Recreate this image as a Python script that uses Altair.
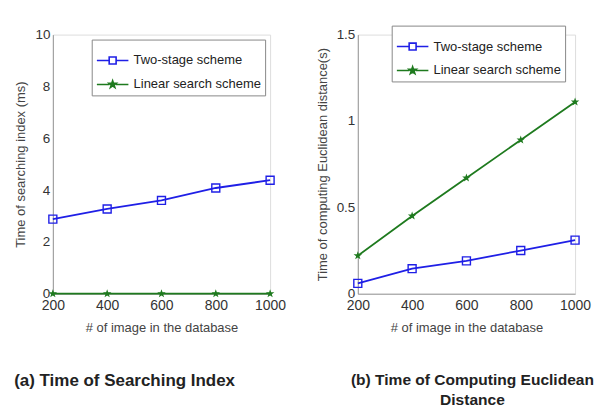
import altair as alt
import pandas as pd

images = [200, 400, 600, 800, 1000]
series_names = ["Two-stage scheme", "Linear search scheme"]
search_two_stage = [2.88, 3.27, 3.6, 4.08, 4.38]
search_linear = [0, 0, 0, 0, 0]
dist_two_stage = [0.06, 0.145, 0.19, 0.25, 0.31]
dist_linear = [0.22, 0.45, 0.67, 0.89, 1.11]
y_ticks_a = [0, 2, 4, 6, 8, 10]
y_ticks_b = [0, 0.5, 1, 1.5]
x_ticks = [200, 400, 600, 800, 1000]

BLUE = "#1f1fe6"
GREEN = "#1e7a1e"
FONT = "Liberation Sans Narrow, Arial Narrow, Liberation Sans, sans-serif"
STAR = ("M0,-1L0.235,-0.324L0.951,-0.309L0.38,0.124L0.588,0.809L0,0.4"
        "L-0.588,0.809L-0.38,0.124L-0.951,-0.309L-0.235,-0.324Z")
LEG_SQ = "M-1,0H-0.22M0.22,0H1M-0.22,-0.22H0.22V0.22H-0.22Z"
LEG_STAR = ("M-1,0H-0.2M0.2,0H1M0,-0.24L0.056,-0.078L0.228,-0.074L0.091,0.03"
            "L0.141,0.194L0,0.096L-0.141,0.194L-0.091,0.03L-0.228,-0.074L-0.056,-0.078Z")


def make_df(two, lin):
    rows = []
    for n, v in zip(images, two):
        rows.append({"images": n, "value": v, "series": series_names[0]})
    for n, v in zip(images, lin):
        rows.append({"images": n, "value": v, "series": series_names[1]})
    return pd.DataFrame(rows)


def panel(df, ytitle, ymax, yticks, caption, dx, lx, ly, capsize):
    base = alt.Chart(df)
    common = dict(titleFontSize=13, titleFontWeight="normal", titleColor="#444",
                  labelColor="#333", labelFlush=False,
                  tickSize=0, domainColor="#999", grid=False,
                  labelFont=FONT, titleFont=FONT, labelExpr="'' + datum.value")
    x = alt.X("images:Q", scale=alt.Scale(domain=[200, 1000], nice=False),
              axis=alt.Axis(values=x_ticks, title="# of image in the database",
                            titlePadding=9, labelPadding=5, labelFontSize=14, **common))
    y = alt.Y("value:Q", scale=alt.Scale(domain=[0, ymax], nice=False),
              axis=alt.Axis(values=yticks, title=ytitle, titlePadding=7,
                            labelPadding=3, labelFontSize=13.5, **common))
    legend = alt.Legend(
        title=None, orient="none", legendX=lx, legendY=ly,
        fillColor="white", strokeColor="#888", padding=4,
        labelFont=FONT, labelFontSize=13, labelColor="#222",
        symbolSize=1000, symbolStrokeWidth=1.6, symbolOpacity=1,
        rowPadding=-13, labelOffset=4,
    )
    dom = alt.Scale(domain=series_names, range=[BLUE, GREEN])
    two = base.transform_filter(alt.datum.series == series_names[0])
    lin = base.transform_filter(alt.datum.series == series_names[1])
    line1 = two.mark_line(strokeWidth=1.8, color=BLUE).encode(x=x, y=y)
    line2 = lin.mark_line(strokeWidth=1.8, color=GREEN).encode(x=x, y=y)
    sq = two.mark_point(size=64, strokeWidth=1.4, opacity=1, shape="square",
                        color=BLUE, filled=False).encode(x=x, y=y)
    st = lin.mark_point(size=80, strokeWidth=1.0, opacity=1, shape=STAR,
                        color=GREEN, filled=True).encode(x=x, y=y)
    leg = base.transform_filter("false").mark_point(strokeWidth=1.6).encode(
        x=x, y=y,
        color=alt.Color("series:N", scale=dom, legend=legend),
        fill=alt.Fill("series:N", scale=alt.Scale(domain=series_names, range=["transparent", GREEN]), legend=legend),
        shape=alt.Shape("series:N", scale=alt.Scale(domain=series_names, range=[LEG_SQ, LEG_STAR]), legend=legend),
    )
    return alt.layer(line1, line2, sq, st, leg).properties(
        width=218, height=260,
        title=alt.TitleParams(caption, orient="bottom", fontSize=capsize, fontWeight="bold",
                              font="Liberation Sans, sans-serif", color="#222",
                              offset=39, dx=dx, lineHeight=20),
    )


left = panel(make_df(search_two_stage, search_linear), "Time of searching index (ms)", 10,
             y_ticks_a, "(a) Time of Searching Index", -37, 39, 5, 17)
right = panel(make_df(dist_two_stage, dist_linear), "Time of computing Euclidean distance(s)", 1.5,
              y_ticks_b, ["(b) Time of Computing Euclidean", "Distance"], 6, 34, -9, 15.6)

chart = alt.hconcat(left, right, spacing=28).resolve_scale(
    color="independent", fill="independent", shape="independent"
).properties(
    padding={"left": 5, "top": 16, "right": 0, "bottom": 0},
).configure_view(stroke="#999", strokeWidth=1).configure(background="white")

chart.save("out.html", embed_options={"renderer": "svg", "actions": False})
